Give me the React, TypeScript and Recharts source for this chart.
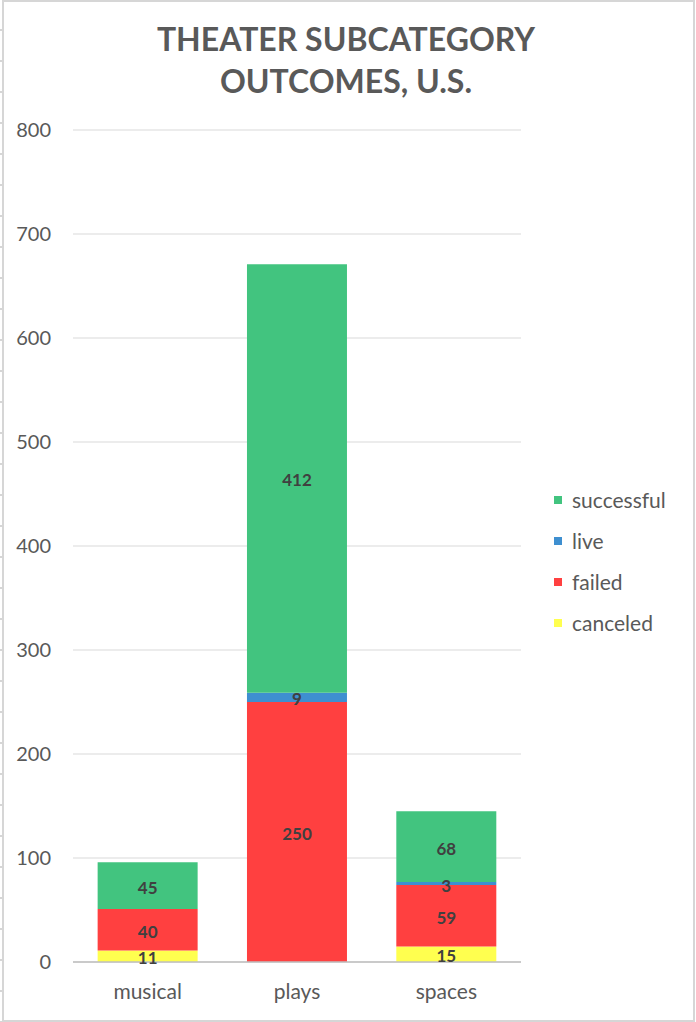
import { BarChart, Bar, XAxis, YAxis, CartesianGrid, Legend, LabelList } from 'recharts';

const categories = ['musical', 'plays', 'spaces'];
const canceled = [11, 0, 15];
const failed = [40, 250, 59];
const live = [0, 9, 3];
const successful = [45, 412, 68];
const yTicks = [0, 100, 200, 300, 400, 500, 600, 700, 800];

const series = [
    { key: 'canceled', values: canceled, color: '#ffff4f' },
    { key: 'failed', values: failed, color: '#ff4040' },
    { key: 'live', values: live, color: '#3e8fd0' },
    { key: 'successful', values: successful, color: '#42c47f' },
];

const data = categories.map((name, i) => {
    const row: any = { name };
    series.forEach(s => { row[s.key] = s.values[i]; });
    return row;
});

const FONT = 'Lato, "Open Sans", sans-serif';
const GRAY = '#595959';

const hideZero = (v: any) => (v ? v : '');

const LegendBox = (props: any) => {
    const items = [...(props.payload || [])].reverse();
    return (
        <div style={{ fontFamily: FONT, fontSize: 21, color: GRAY }}>
            {items.map((item: any) => (
                <div key={item.value} style={{ display: 'flex', alignItems: 'center', height: 41 }}>
                    <span style={{ width: 8, height: 8, background: item.color, marginRight: 10, display: 'inline-block' }} />
                    <span>{item.value}</span>
                </div>
            ))}
        </div>
    );
};

const App = () => {
    return (
        <div style={{ position: 'absolute', left: 0, top: 0, width: 696, height: 1022, background: '#fff' }}>
            <div style={{
                position: 'absolute', left: 2, top: 0, width: 693, height: 1022,
                border: '2px solid #d6d6d6', boxSizing: 'border-box',
            }} />
            <div style={{
                position: 'absolute', left: 0, top: 0, width: 3, height: 1022,
                backgroundImage: 'repeating-linear-gradient(to bottom, transparent 0px, transparent 29px, #d6d6d6 29px, #d6d6d6 31px, transparent 31px, transparent 30.2px)',
            }} />
            <div style={{
                position: 'absolute', left: 0, top: 18, width: 692, textAlign: 'center',
                fontFamily: FONT, fontWeight: 700, fontSize: 32, lineHeight: '42px', color: GRAY,
            }}>
                THEATER SUBCATEGORY<br />OUTCOMES, U.S.
            </div>
            <div style={{ position: 'absolute', left: 0, top: 0 }}>
                <BarChart
                    width={696}
                    height={1022}
                    data={data}
                    margin={{ top: 130, right: 175, bottom: 20, left: 0 }}
                    barCategoryGap="16.5%"
                >
                    <CartesianGrid vertical={false} stroke="#d9d9d9" />
                    <XAxis
                        dataKey="name"
                        height={40}
                        tickSize={0}
                        tickMargin={22}
                        axisLine={{ stroke: '#bfbfbf', strokeWidth: 1.5 }}
                        tick={{ fill: GRAY, fontSize: 21, fontFamily: FONT }}
                    />
                    <YAxis
                        width={73}
                        domain={[0, 800]}
                        ticks={yTicks}
                        tickSize={0}
                        tickMargin={22}
                        axisLine={false}
                        tickLine={false}
                        tick={{ fill: GRAY, fontSize: 20, fontFamily: FONT }}
                    />
                    {series.map(s => (
                        <Bar key={s.key} dataKey={s.key} stackId="a" fill={s.color} isAnimationActive={false}>
                            <LabelList
                                dataKey={s.key}
                                position="center"
                                formatter={hideZero}
                                dy={2}
                                style={{ fill: '#404040', fontSize: 17, fontWeight: 700, fontFamily: FONT }}
                            />
                        </Bar>
                    ))}
                    <Legend
                        layout="vertical"
                        align="center"
                        verticalAlign="middle"
                        content={<LegendBox />}
                        wrapperStyle={{ left: 554, top: 479, width: 140 }}
                    />
                </BarChart>
            </div>
        </div>
    );
};

export default App;
